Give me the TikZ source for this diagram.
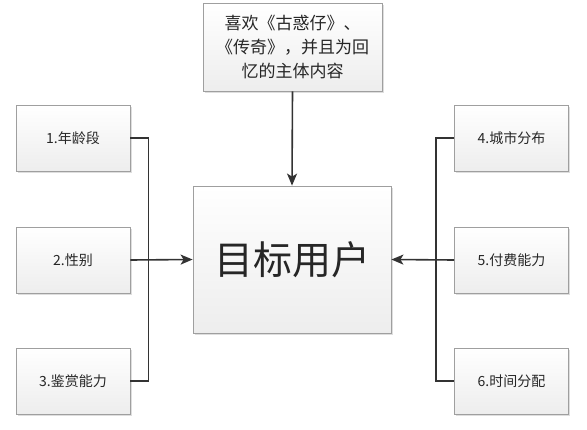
\documentclass[tikz,border=0pt]{standalone}
\usepackage{fontspec}
\setmainfont{Noto Sans CJK SC}
\usetikzlibrary{arrows.meta,shadows}
\begin{document}
\begin{tikzpicture}[x=1pt,y=-1pt,
 box/.style={draw=gray!75, line width=0.8pt, top color=white, bottom color=gray!14,
   drop shadow={shadow xshift=1.5pt, shadow yshift=-1.5pt, fill=gray!50, opacity=0.5},
   align=center, text=black!85, inner sep=0pt},
 sbox/.style={box, minimum width=114pt, minimum height=66pt, font=\fontsize{14}{16}\selectfont},
 conn/.style={draw=black!80, line width=1.6pt},
 arr/.style={conn, -{Stealth[length=12pt,width=10pt,inset=3pt]}}]
\useasboundingbox (0,0) rectangle (587,429);
\fill[white] (0,0) rectangle (587,429);
\node[sbox] (b1) at (73,138) {1.年龄段};
\node[sbox] (b2) at (73,260) {2.性别};
\node[sbox] (b3) at (73,381) {3.鉴赏能力};
\node[sbox] (b4) at (511.5,138) {4.城市分布};
\node[sbox] (b5) at (511.5,260) {5.付费能力};
\node[sbox] (b6) at (511.5,381) {6.时间分配};
\node[box, minimum width=198pt, minimum height=147pt, font=\fontsize{39}{44}\selectfont] (main) at (292,259.5) {目标用户};
\node[box, minimum width=179pt, minimum height=88pt, font=\fontsize{17}{24}\selectfont] (top) at (292.5,47) {喜欢《古惑仔》、\\《传奇》，并且为回\\忆的主体内容};
\draw[conn] (b1.east) -- ++(18,0) |- (b3.east);
\draw[arr] (b2.east) -- (main.west);
\draw[conn] (b4.west) -- ++(-18,0) |- (b6.west);
\draw[arr] (b5.west) -- (main.east);
\draw[arr] (top.south) -- (main.north);
\end{tikzpicture}
\end{document}
